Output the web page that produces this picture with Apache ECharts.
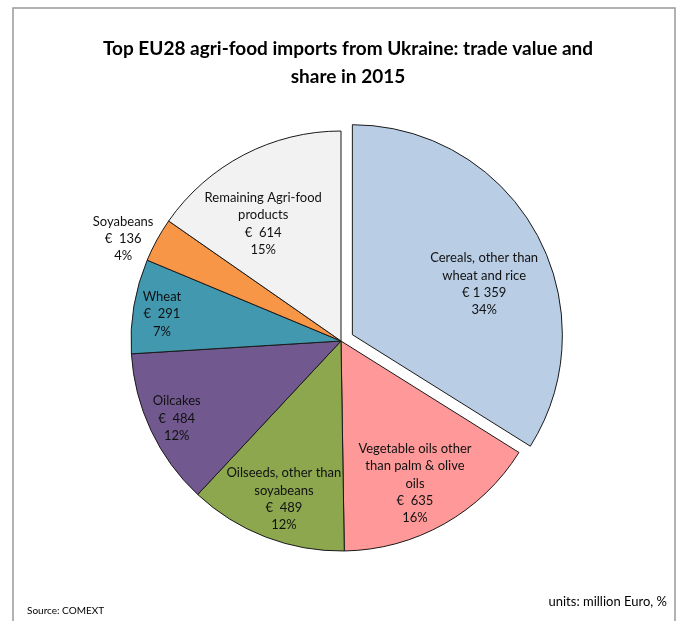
<!DOCTYPE html>
<html><head><meta charset="utf-8">
<script src="https://cdn.jsdelivr.net/npm/echarts@6/dist/echarts.min.js"></script>
<style>html,body{margin:0;padding:0;background:#fff}#c{width:681px;height:621px}</style>
</head><body><div id="c"></div>
<script>
const categories = ['Cereals, other than\nwheat and rice', 'Vegetable oils other\nthan palm & olive\noils', 'Oilseeds, other than\nsoyabeans', 'Oilcakes', 'Wheat', 'Soyabeans', 'Remaining Agri-food\nproducts'];
const values = [1359, 635, 489, 484, 291, 136, 614];
const shares = ['34%', '16%', '12%', '12%', '7%', '4%', '15%'];
const colors = ['#B9CDE5', '#FF9999', '#8CA74E', '#71588F', '#4198AF', '#F79646', '#F2F2F2'];

// layout (label placement as fraction of radius + small angle nudge, degrees)
const CX = 341, CY = 341, R = 210, EXPLODE = 13;
const labelFrac = [0.672, 0.765, 0.80, 0.865, 0.862, 1.146, 0.67];
const labelShift = [8, 2, -1.2, 0, -1, -3.6, -6];

const total = values.reduce((a, b) => a + b, 0);
const mids = [];
{ let c = 0; values.forEach(v => { const s = v / total * 360; mids.push(c + s / 2); c += s; }); }
function fmtVal(v) {
  const s = String(v).replace(/\B(?=(\d{3})+(?!\d))/g, ' ');
  return v >= 1000 ? '€ ' + s : '€  ' + s;
}
function labelPos(i, exploded) {
  const a = (mids[i] + labelShift[i]) * Math.PI / 180;
  const d = labelFrac[i] * R;
  let x = CX + d * Math.sin(a), y = CY - d * Math.cos(a);
  if (exploded) {
    const m = mids[i] * Math.PI / 180;
    x += EXPLODE * Math.sin(m); y -= EXPLODE * Math.cos(m);
  }
  return {x, y, align: 'center', verticalAlign: 'middle'};
}
const labelText = p => categories[p.dataIndex] + '\n' + fmtVal(values[p.dataIndex]) + '\n' + shares[p.dataIndex];
const labelStyle = {fontFamily: 'Lato', fontSize: 13, lineHeight: 17.3, color: '#111', align: 'center'};

const chart = echarts.init(document.getElementById('c'), null, {renderer: 'canvas'});
chart.setOption({
  animation: false,
  backgroundColor: '#fff',
  title: {
    text: 'Top EU28 agri-food imports from Ukraine: trade value and\nshare in 2015',
    left: 343, top: 30, textAlign: 'center',
    textStyle: {fontFamily: 'Lato', fontWeight: 'bold', fontSize: 19, lineHeight: 28, color: '#000'}
  },
  graphic: [
    {type: 'rect', shape: {x: 13, y: 8, width: 662, height: 630}, style: {fill: 'none', stroke: '#999', lineWidth: 1.5}, silent: true},
    {type: 'text', left: 27, top: 606, style: {text: 'Source: COMEXT', font: '10px Lato', fill: '#000'}},
    {type: 'text', right: 14, top: 595, style: {text: 'units: million Euro, %', font: '13px Lato', fill: '#000'}}
  ],
  series: [{
    type: 'pie',
    center: [CX, CY],
    radius: R,
    startAngle: 90,
    clockwise: true,
    selectedMode: 'single',
    selectedOffset: EXPLODE,
    silent: true,
    z: 2,
    emphasis: {scale: false},
    itemStyle: {borderColor: '#1a1a1a', borderWidth: 1},
    labelLine: {show: false},
    label: Object.assign({show: true, position: 'inside', formatter: labelText}, labelStyle),
    labelLayout: p => labelPos(p.dataIndex, false),
    data: values.map((v, i) => ({value: v, name: categories[i], selected: i === 0, label: {show: i !== 0}, itemStyle: {color: colors[i]}}))
  }, {
    // label carrier for the exploded slice (same geometry, invisible sectors)
    type: 'pie',
    center: [CX, CY],
    radius: R,
    startAngle: 90,
    clockwise: true,
    silent: true,
    z: 5,
    emphasis: {scale: false},
    itemStyle: {color: 'rgba(0,0,0,0)', borderWidth: 0},
    labelLine: {show: false},
    label: Object.assign({show: true, position: 'inside', formatter: labelText}, labelStyle),
    labelLayout: p => labelPos(p.dataIndex, true),
    data: values.map((v, i) => ({value: v, name: categories[i], label: {show: i === 0}}))
  }]
});
</script></body></html>
